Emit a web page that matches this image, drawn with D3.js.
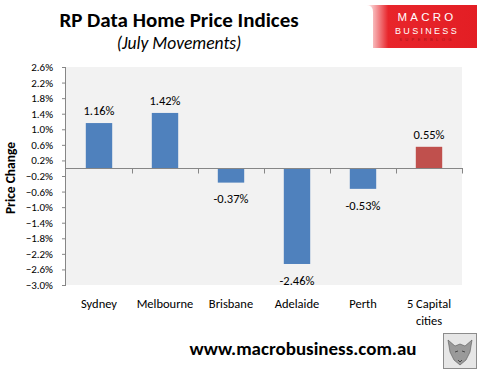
<!DOCTYPE html>
<html>
<head>
<meta charset="utf-8">
<script src="https://cdn.jsdelivr.net/npm/d3@7"></script>
<style>
  body { margin: 0; background: #fff; }
  svg { display: block; font-family: Carlito, Calibri, Lato, sans-serif; }
</style>
</head>
<body>
<div id="chart"></div>
<script>
// July movements, RP Data home price indices
var cities = ["Sydney", "Melbourne", "Brisbane", "Adelaide", "Perth", "5 Capital cities"];
var changes = [1.16, 1.42, -0.37, -2.46, -0.53, 0.55];
var yTicks = [2.6, 2.2, 1.8, 1.4, 1.0, 0.6, 0.2, -0.2, -0.6, -1.0, -1.4, -1.8, -2.2, -2.6, -3.0];

var W = 484, H = 377;
var plot = {left: 66, right: 462, top: 67, bottom: 285};

var svg = d3.select("#chart").append("svg")
    .attr("width", W)
    .attr("height", H);

// scales
var x = d3.scaleBand()
    .domain(cities)
    .range([plot.left, plot.right])
    .paddingInner(0.6)
    .paddingOuter(0.3);

var band = d3.scaleBand().domain(cities).range([plot.left, plot.right]);

var y = d3.scaleLinear()
    .domain([-3.0, 2.6])
    .range([plot.bottom, plot.top]);

// plot background
svg.append("rect")
    .attr("x", plot.left)
    .attr("y", plot.top)
    .attr("width", plot.right - plot.left)
    .attr("height", plot.bottom - plot.top)
    .attr("fill", "#f2f2f2");

// y axis
var yAxis = svg.append("g")
    .attr("transform", "translate(" + plot.left + ",0)")
    .call(d3.axisLeft(y).tickValues(yTicks).tickSize(4).tickPadding(9)
        .tickFormat(function(d) { return d3.format(".1f")(d) + "%"; }));
yAxis.select(".domain").attr("stroke", "#868686").attr("d", "M-0.5," + plot.top + "V" + plot.bottom);
yAxis.selectAll(".tick line").attr("stroke", "#868686");
yAxis.selectAll(".tick text")
    .attr("font-size", "11px")
    .attr("fill", "#000")
    .attr("font-family", "Carlito, Calibri, Lato, sans-serif");

// bars
svg.selectAll(".bar")
    .data(changes)
  .enter().append("rect")
    .attr("class", "bar")
    .attr("x", function(d, i) { return x(cities[i]); })
    .attr("width", x.bandwidth())
    .attr("y", function(d) { return y(Math.max(0, d)); })
    .attr("height", function(d) { return Math.abs(y(d) - y(0)); })
    .attr("fill", function(d, i) { return i === cities.length - 1 ? "#c0504d" : "#4f81bd"; });

// zero line with category ticks
var y0 = Math.round(y(0)) + 0.5;
svg.append("line")
    .attr("x1", plot.left).attr("x2", plot.right + 1)
    .attr("y1", y0).attr("y2", y0)
    .attr("stroke", "#868686");
svg.selectAll(".xtick")
    .data(cities.slice(1).concat(["end"]))
  .enter().append("line")
    .attr("x1", function(d, i) { return Math.round(plot.left + band.bandwidth() * (i + 1)) + 0.5; })
    .attr("x2", function(d, i) { return Math.round(plot.left + band.bandwidth() * (i + 1)) + 0.5; })
    .attr("y1", y0).attr("y2", y0 + 5)
    .attr("stroke", "#868686");

// data labels
svg.selectAll(".lbl")
    .data(changes)
  .enter().append("text")
    .attr("x", function(d, i) { return x(cities[i]) + x.bandwidth() / 2; })
    .attr("y", function(d) { return d >= 0 ? y(d) - 12.5 : y(d) + 16.5; })
    .attr("dy", "0.35em")
    .attr("text-anchor", "middle")
    .attr("font-size", "12.5px")
    .text(function(d) { return d.toFixed(2) + "%"; });

// category labels
svg.selectAll(".cat")
    .data(cities)
  .enter().append("text")
    .attr("x", function(d) { return band(d) + band.bandwidth() / 2; })
    .attr("y", 304)
    .attr("dy", "0.35em")
    .attr("text-anchor", "middle")
    .attr("font-size", "12.5px")
    .each(function(d) {
      var t = d3.select(this);
      if (d === "5 Capital cities") {
        t.append("tspan").attr("x", t.attr("x")).text("5 Capital");
        t.append("tspan").attr("x", t.attr("x")).attr("dy", "1.3em").text("cities");
      } else {
        t.text(d);
      }
    });

// axis title
svg.append("text")
    .attr("transform", "translate(15,178) rotate(-90)")
    .attr("text-anchor", "middle")
    .attr("font-size", "13.5px")
    .attr("font-weight", "bold")
    .text("Price Change");

// titles
svg.append("text")
    .attr("x", 179).attr("y", 27)
    .attr("text-anchor", "middle")
    .attr("font-size", "21px")
    .attr("font-weight", "bold")
    .text("RP Data Home Price Indices");
svg.append("text")
    .attr("x", 179).attr("y", 49)
    .attr("text-anchor", "middle")
    .attr("font-size", "17.5px")
    .attr("font-style", "italic")
    .text("(July Movements)");

// logo
var defs = svg.append("defs");
var grad = defs.append("linearGradient").attr("id", "fade").attr("x1", 0).attr("x2", 1);
grad.append("stop").attr("offset", "0").attr("stop-color", "#ffffff");
grad.append("stop").attr("offset", "0.2").attr("stop-color", "#e8252b");
grad.append("stop").attr("offset", "1").attr("stop-color", "#e31e24");
var logo = svg.append("g");
logo.append("path")
    .attr("d", "M370,5H477V48H373V12Q373,5 366,5Z")
    .attr("fill", "url(#fade)");
logo.append("text").attr("x", 427).attr("y", 21)
    .attr("text-anchor", "middle").attr("fill", "#fff")
    .attr("font-size", "11.5px").attr("letter-spacing", "3.2px")
    .attr("font-family", "Liberation Sans, sans-serif")
    .text("MACRO");
logo.append("text").attr("x", 427).attr("y", 34)
    .attr("text-anchor", "middle").attr("fill", "#fff")
    .attr("font-size", "9px").attr("letter-spacing", "2.3px")
    .attr("font-family", "Liberation Sans, sans-serif")
    .text("BUSINESS");
logo.append("text").attr("x", 427).attr("y", 41)
    .attr("text-anchor", "middle").attr("fill", "#a0141a")
    .attr("font-size", "4px").attr("letter-spacing", "3.4px")
    .attr("font-family", "Liberation Sans, sans-serif")
    .text("SUPERBLOG");

// footer
svg.append("text")
    .attr("x", 303).attr("y", 355)
    .attr("text-anchor", "middle")
    .attr("font-size", "19px")
    .attr("font-weight", "bold")
    .text("www.macrobusiness.com.au");
var fox = svg.append("g");
fox.append("rect").attr("x", 443.5).attr("y", 333.5).attr("width", 33).attr("height", 35)
    .attr("fill", "#e6e6e6").attr("stroke", "#8c8c8c");
fox.append("path")
    .attr("d", "M448,340L455,346L460,344L465,346L472,340L470,352L466,360L460,365L454,360L450,352Z")
    .attr("fill", "#9a9a9a").attr("stroke", "#555").attr("stroke-width", 0.6);
fox.append("path")
    .attr("d", "M455,352L458,351M462,351L465,352M458,360L460,362L462,360")
    .attr("stroke", "#333").attr("stroke-width", 0.8).attr("fill", "none");
</script>
</body>
</html>
